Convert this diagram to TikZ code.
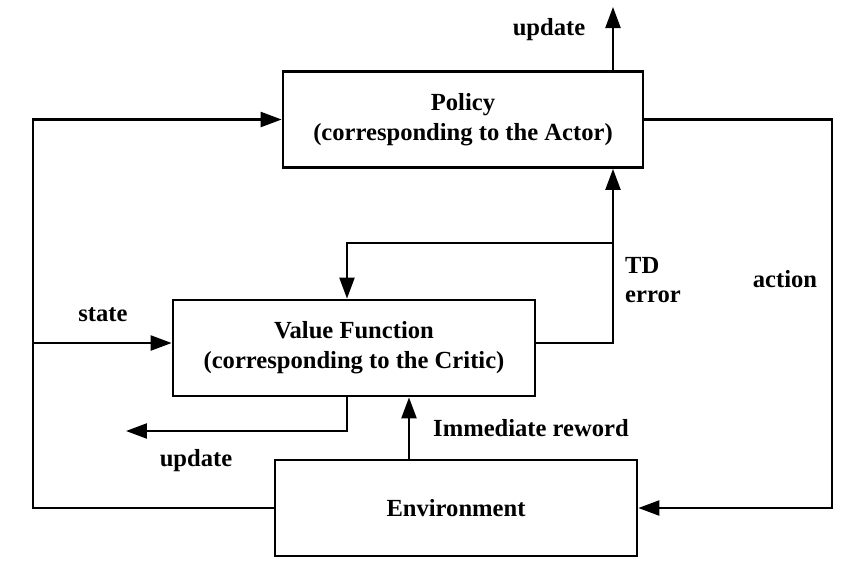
\documentclass[tikz,border=0pt]{standalone}
\usepackage{fontspec}
\setmainfont{Liberation Serif}
\usetikzlibrary{arrows.meta}
\tikzset{
	blok/.style={draw,line width=1.6pt,minimum width=10.2cm,minimum height=1.92cm,inner sep=0pt,align=center,font=\bfseries\fontsize{14}{17}\selectfont},
	povezava/.style={line width=1.3pt},
	puscica/.style={povezava,-{Triangle[length=0.42cm,width=0.3cm]}},
	oznaka/.style={font=\bfseries\fontsize{14}{17}\selectfont,inner sep=0pt}
}
\begin{document}
\begin{tikzpicture}[x=0.02cm,y=-0.02cm]
	\useasboundingbox (0,0) rectangle (850,566);
	% bloki
	\node[blok,minimum width=7.2cm] (policy) at (463,119.5) {Policy\\(corresponding to the Actor)};
	\node[blok,minimum width=7.24cm] (value) at (354,348) {Value Function\\(corresponding to the Critic)};
	\node[blok,minimum width=7.24cm] (env) at (456,508) {Environment};
	% tocke
	\coordinate (levo) at (33,508);
	\coordinate (desno) at (832,119.5);
	\coordinate (stanje) at (33,343);
	\coordinate (td) at (613,343);
	\coordinate (razcep) at (613,243);
	\coordinate (gor) at (613,7);
	\coordinate (dol) at (347,431);
	\coordinate (levokonec) at (126,431);
	% povezave
	\draw[puscica] (env.west) -- (levo) |- (policy.west);
	\draw[puscica] (stanje) -- (stanje -| value.west);
	\draw[puscica] (policy.east) -- (desno) |- (env.east);
	\draw[puscica] (value.east |- td) -- (td) -- (td |- policy.south);
	\draw[puscica] (razcep) -| (value.north -| dol);
	\draw[puscica] (value.south -| dol) -- (dol) -- (levokonec);
	\draw[puscica] (env.north -| 409,0) -- (value.south -| 409,0);
	\draw[puscica] (policy.north -| gor) -- (gor);
	% oznake
	\node[oznaka] (upd1) at (549,30) {update};
	\node[oznaka,align=left] (tderr) at (653,280) {TD\\error};
	\node[oznaka] (act) at (785,279) {action};
	\node[oznaka] (st) at (103,315) {state};
	\node[oznaka] (rew) at (531,428) {Immediate reword};
	\node[oznaka] (upd2) at (196,461) {update};
\end{tikzpicture}
\end{document}
